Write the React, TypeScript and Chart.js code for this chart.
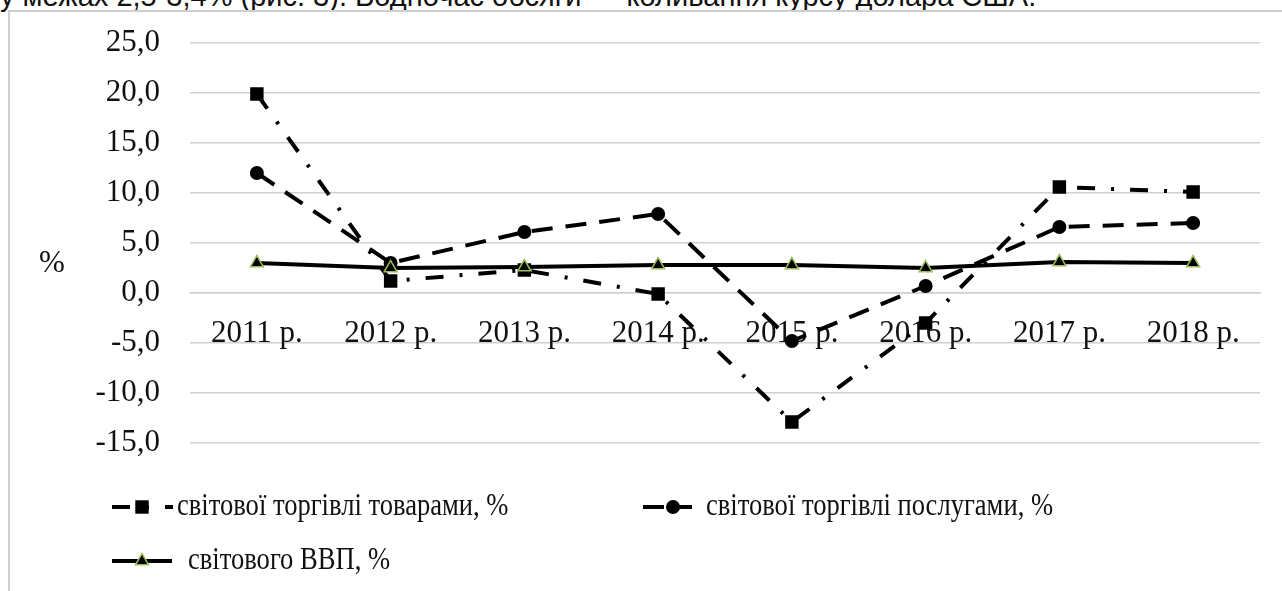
import React, { useEffect, useRef } from "react";
import { Chart, registerables } from "chart.js";

Chart.register(...registerables);

// ---- data ----
const categories = ["2011 р.", "2012 р.", "2013 р.", "2014 р.", "2015 р.", "2016 р.", "2017 р.", "2018 р."];
const goodsTrade = [19.9, 1.2, 2.3, -0.1, -12.9, -3.0, 10.6, 10.1];
const servicesTrade = [12.0, 3.0, 6.1, 7.9, -4.8, 0.7, 6.6, 7.0];
const worldGdp = [3.0, 2.5, 2.6, 2.8, 2.8, 2.5, 3.1, 3.0];
const seriesLabels = [
  "світової торгівлі товарами, %",
  "світової торгівлі послугами, %",
  "світового ВВП, %",
];
const yMin = -15;
const yMax = 25;
const yStep = 5;
const axisUnit = "%";
const headText = "у межах 2,5-3,4% (рис. 3). Водночас обсяги — коливання курсу долара США.";

const SERIF = "'Liberation Serif', 'Times New Roman', serif";

function drawMarker(ctx: CanvasRenderingContext2D, style: string, x: number, y: number, r: number, fill: string, stroke: string, bw: number) {
  ctx.save();
  ctx.setLineDash([]);
  ctx.fillStyle = fill;
  ctx.strokeStyle = stroke;
  ctx.lineWidth = bw;
  ctx.beginPath();
  if (style === "rect") {
    const s = r * Math.SQRT1_2;
    ctx.rect(x - s, y - s, 2 * s, 2 * s);
  } else if (style === "circle") {
    ctx.arc(x, y, r, 0, Math.PI * 2);
  } else if (style === "triangle") {
    ctx.moveTo(x, y - r);
    ctx.lineTo(x + r * Math.sin((2 * Math.PI) / 3), y - r * Math.cos((2 * Math.PI) / 3));
    ctx.lineTo(x + r * Math.sin((4 * Math.PI) / 3), y - r * Math.cos((4 * Math.PI) / 3));
    ctx.closePath();
  }
  ctx.fill();
  if (bw > 0) ctx.stroke();
  ctx.restore();
}

const overlayPlugin = {
  id: "overlayLegend",
  afterDraw(chart: any, _args: any, opts: any) {
    const ctx: CanvasRenderingContext2D = chart.ctx;
    ctx.save();
    ctx.font = `31px ${SERIF}`;
    ctx.fillStyle = "#111";
    ctx.textAlign = "center";
    ctx.textBaseline = "middle";
    ctx.fillText(axisUnit, opts.unitX, opts.unitY);
    ctx.restore();

    const items = opts.items as Array<{ x: number; y: number; w: number; mx: number; tx: number }>;
    items.forEach((it, i) => {
      const ds = chart.data.datasets[i];
      ctx.save();
      ctx.strokeStyle = ds.borderColor;
      ctx.lineWidth = ds.borderWidth;
      ctx.setLineDash(ds.borderDash || []);
      ctx.beginPath();
      ctx.moveTo(it.x, it.y);
      ctx.lineTo(it.x + it.w, it.y);
      ctx.stroke();
      ctx.restore();
      drawMarker(ctx, ds.pointStyle, it.mx, it.y, ds.pointRadius, ds.pointBackgroundColor, ds.pointBorderColor, ds.pointBorderWidth);
      ctx.save();
      ctx.font = `32px ${SERIF}`;
      ctx.fillStyle = "#111";
      ctx.textAlign = "left";
      ctx.textBaseline = "middle";
      ctx.translate(it.tx, it.y);
      ctx.scale(0.83, 1);
      ctx.fillText(ds.label, 0, 0);
      ctx.restore();
    });
  },
};

export default function App() {
  const ref = useRef<HTMLCanvasElement | null>(null);

  useEffect(() => {
    if (!ref.current) return;
    const chart = new Chart(ref.current, {
      type: "line",
      data: {
        labels: categories,
        datasets: [
          {
            label: seriesLabels[0],
            data: goodsTrade,
            borderColor: "#000",
            borderWidth: 4,
            borderDash: [18, 16, 3, 16],
            pointStyle: "rect",
            pointRadius: 9.5,
            pointHoverRadius: 9.5,
            pointBackgroundColor: "#000",
            pointBorderColor: "#000",
            pointBorderWidth: 0,
            fill: false,
            tension: 0,
            order: 3,
          },
          {
            label: seriesLabels[1],
            data: servicesTrade,
            borderColor: "#000",
            borderWidth: 4,
            borderDash: [21, 13],
            pointStyle: "circle",
            pointRadius: 7,
            pointHoverRadius: 7,
            pointBackgroundColor: "#000",
            pointBorderColor: "#000",
            pointBorderWidth: 0,
            fill: false,
            tension: 0,
            order: 2,
          },
          {
            label: seriesLabels[2],
            data: worldGdp,
            borderColor: "#000",
            borderWidth: 4,
            borderDash: [],
            pointStyle: "triangle",
            pointRadius: 7.5,
            pointHoverRadius: 7.5,
            pointBackgroundColor: "#000",
            pointBorderColor: "#9bbb59",
            pointBorderWidth: 1.5,
            fill: false,
            tension: 0,
            order: 1,
          },
        ] as any,
      },
      options: {
        animation: false,
        responsive: false,
        devicePixelRatio: 1,
        layout: { padding: { left: 0, top: 31, right: 22, bottom: 148 } },
        plugins: {
          legend: { display: false },
          tooltip: { enabled: false },
          overlayLegend: {
            unitX: 42,
            unitY: 252,
            items: [
              { x: 102, y: 495, w: 61, mx: 132, tx: 167 },
              { x: 633, y: 495, w: 49, mx: 663, tx: 696 },
              { x: 102, y: 549, w: 60, mx: 132, tx: 178 },
            ],
          },
        } as any,
        scales: {
          x: {
            type: "category",
            position: { y: 0 } as any,
            offset: true,
            afterFit: (s: any) => {
              s.paddingLeft = 0;
              s.paddingRight = 0;
            },
            grid: { display: false, drawTicks: false },
            border: { display: true, color: "#d0d0d0", width: 1.5 },
            ticks: {
              font: { family: SERIF, size: 31 },
              color: "#111",
              padding: 22,
              maxRotation: 0,
              autoSkip: false,
            },
          },
          y: {
            min: yMin,
            max: yMax,
            afterFit: (s: any) => {
              s.width = 180;
              s.paddingTop = 0;
              s.paddingBottom = 0;
            },
            ticks: {
              stepSize: yStep,
              font: { family: SERIF, size: 31 },
              color: "#111",
              padding: 30,
              callback: (v: any) => Number(v).toFixed(1).replace(".", ","),
            },
            grid: { color: "#d0d0d0", lineWidth: 1.5, drawTicks: false },
            border: { display: false },
          },
        },
      },
      plugins: [overlayPlugin as any],
    });
    return () => chart.destroy();
  }, []);

  return (
    <div style={{ position: "absolute", left: 0, top: 0, width: 1282, height: 591, overflow: "hidden", background: "#fff" }}>
      <div
        style={{
          position: "absolute",
          left: 0,
          top: -19,
          whiteSpace: "nowrap",
          fontFamily: "'Liberation Sans', Arial, sans-serif",
          fontSize: 29,
          lineHeight: "30px",
          color: "#111",
        }}
      >
        {headText}
      </div>
      <div
        style={{
          position: "absolute",
          left: 8,
          top: 10,
          width: 1274,
          height: 581,
          borderLeft: "2px solid #cfcfcf",
          borderTop: "2px solid #cfcfcf",
          background: "#fff",
        }}
      >
        <canvas ref={ref} width={1272} height={579} style={{ display: "block" }} />
      </div>
    </div>
  );
}
